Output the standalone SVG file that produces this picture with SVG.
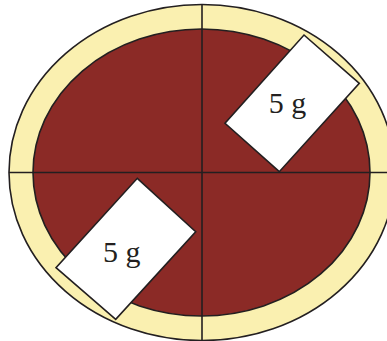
<svg xmlns="http://www.w3.org/2000/svg" width="387" height="341" viewBox="0 0 387 341">
<style>
.ln{stroke:#231f20;stroke-width:1.6;fill:none}
.card{fill:#ffffff;stroke:#231f20;stroke-width:1.6;stroke-linejoin:miter}
.lbl{font-family:"Liberation Serif","Times New Roman",serif;font-size:30px;fill:#231f20;text-anchor:middle}
</style>
<g id="pizza">
<ellipse cx="202" cy="172.5" rx="193" ry="168" fill="#faf0b0" stroke="#231f20" stroke-width="1.6"/>
<ellipse cx="201.5" cy="172.5" rx="168.5" ry="143.5" fill="#8b2a26" stroke="#231f20" stroke-width="1.6"/>
<line class="ln" x1="202" y1="4" x2="202" y2="341"/>
<line class="ln" x1="9" y1="172.5" x2="387" y2="172.5"/>
</g>
<g id="card-upper">
<polygon class="card" points="304,35 359.3,83.3 279.3,171.7 225,123.3"/>
<text class="lbl" x="287.5" y="113">5 g</text>
</g>
<g id="card-lower">
<polygon class="card" points="137.3,178.3 195.7,231.7 115.7,319.3 56,267.7"/>
<text class="lbl" x="121.7" y="261.7">5 g</text>
</g>
</svg>
